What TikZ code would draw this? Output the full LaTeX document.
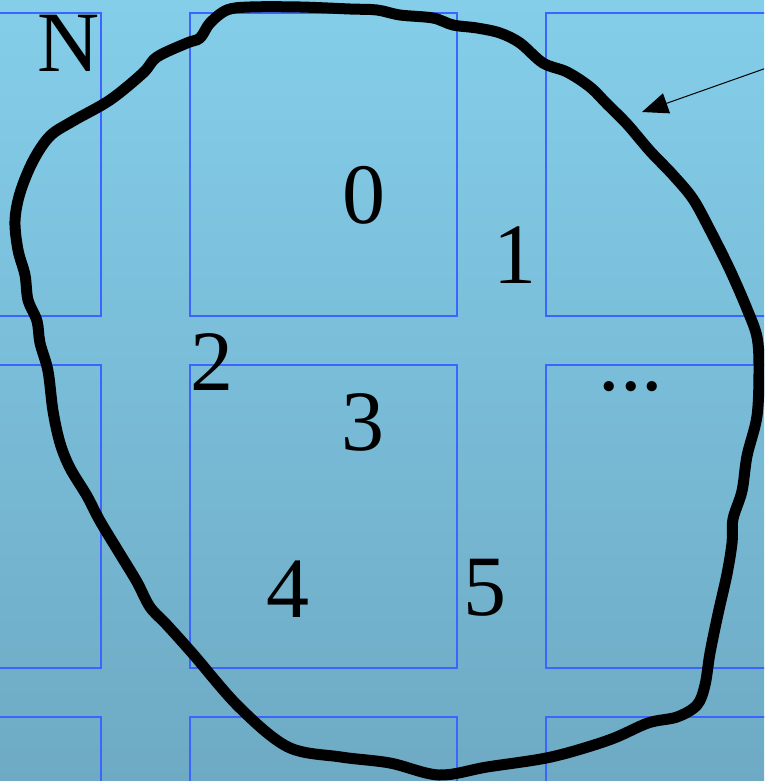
\documentclass[tikz,border=0pt]{standalone}
\usepackage{fontspec}
\setmainfont{Liberation Serif}
\usetikzlibrary{arrows.meta}
\definecolor{bgtop}{RGB}{132,206,234}
\definecolor{bgbot}{RGB}{110,170,196}
\definecolor{cellblue}{RGB}{60,100,255}
\tikzset{
  cell/.style={draw=cellblue, line width=2pt},
  lbl/.style={inner sep=0pt, anchor=base, font=\fontsize{86}{86}\selectfont},
  blob/.style={line width=11pt, line join=round},
  pointer/.style={line width=1pt, -{Triangle[length=26pt,width=21pt]}}
}
\begin{document}
\begin{tikzpicture}[x=1pt,y=-1pt]
\useasboundingbox (0,0) rectangle (764,781);
\clip (0,0) rectangle (764,781);
\shade[top color=bgtop, bottom color=bgbot] (0,0) rectangle (764,781);
% grid of cells
\foreach \xa/\xb in {-20/101,190/457,546/800}{
  \foreach \ya/\yb in {13/316,365/668,717/820}{
    \draw[cell] (\xa,\ya) rectangle (\xb,\yb);
  }
}
% labels
\node[lbl] (n) at (69,72) {N};
\node[lbl] (l0) at (364,223) {0};
\node[lbl] (l1) at (515,283) {1};
\node[lbl] (l2) at (212,390) {2};
\node[lbl] (l3) at (363,450) {3};
\node[lbl] (l4) at (288,617) {4};
\node[lbl] (l5) at (485,615) {5};
\node[lbl] (dots) at (631,390) {...};
% hand-drawn blob
\draw[blob] plot[smooth cycle, tension=0.55] coordinates {
(200,38) (210,23) (227,10) (250,7) (300,7) (350,9) (377,10) (400,15) (433,18)
(453,25) (477,28) (500,33) (520,43) (543,63) (567,72) (590,87) (607,104)
(627,124) (650,151) (673,175) (693,199) (710,230) (730,270) (747,309)
(757,337) (759,369) (757,416) (747,456) (742,491) (733,519) (732,543)
(727,574) (718,614) (710,653) (705,685) (697,705) (677,717) (648,723)
(609,740) (551,757) (487,767) (439,775) (390,763) (341,757) (288,747)
(239,707) (193,654) (167,625) (150,607) (137,582) (120,554) (100,521)
(87,496) (70,468) (60,443) (53,411) (48,371) (40,343) (37,321) (28,300)
(25,275) (18,250) (15,221) (20,193) (33,161) (50,136) (73,121) (110,100)
(143,73) (157,57) (187,43)};
% pointer arrow
\coordinate (astart) at (775,65);
\coordinate (atip) at (642,112);
\draw[pointer] (astart) -- (atip);
\end{tikzpicture}
\end{document}
